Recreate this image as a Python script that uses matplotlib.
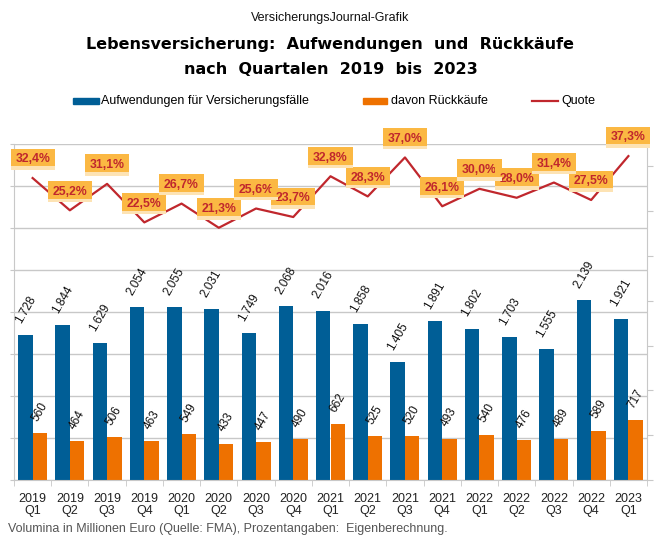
import numpy as np
import matplotlib.pyplot as plt
from matplotlib.patches import Rectangle
from matplotlib.lines import Line2D
from matplotlib.transforms import IdentityTransform

plt.rcParams['font.family'] = ['Liberation Sans', 'DejaVu Sans']

# ---------- data ----------
quarters = ["2019\nQ1", "2019\nQ2", "2019\nQ3", "2019\nQ4",
            "2020\nQ1", "2020\nQ2", "2020\nQ3", "2020\nQ4",
            "2021\nQ1", "2021\nQ2", "2021\nQ3", "2021\nQ4",
            "2022\nQ1", "2022\nQ2", "2022\nQ3", "2022\nQ4",
            "2023\nQ1"]
aufwendungen = [1728, 1844, 1629, 2054, 2055, 2031, 1749, 2068, 2016,
                1858, 1405, 1891, 1802, 1703, 1555, 2139, 1921]
rueckkaeufe = [560, 464, 506, 463, 549, 433, 447, 490, 662,
               525, 520, 493, 540, 476, 489, 589, 717]
quote = [32.4, 25.2, 31.1, 22.5, 26.7, 21.3, 25.6, 23.7, 32.8,
         28.3, 37.0, 26.1, 30.0, 28.0, 31.4, 27.5, 37.3]

BLUE = "#005E96"
ORANGE = "#EE7100"
RED = "#C0272D"
GRID = "#C8C8C8"


def de_num(v):
    return f"{v:,}".replace(",", ".")


def de_pct(v):
    return f"{v:.1f}%".replace(".", ",")


W, H = 661, 544
fig = plt.figure(figsize=(W / 100, H / 100), dpi=100)
ax = fig.add_axes([14 / W, 64 / H, 633 / W, 336 / H])

x = np.arange(len(quarters))
bw = 0.39
ax.bar(x - bw / 2, aufwendungen, bw, color=BLUE, zorder=2)
ax.bar(x + bw / 2, rueckkaeufe, bw, color=ORANGE, zorder=2)

for xi, v in zip(x, aufwendungen):
    ax.annotate(de_num(v), (xi - bw / 2, v), xytext=(0, 7), textcoords="offset points",
                rotation=60, ha="center", va="bottom", fontsize=8.5, color="#111111")
for xi, v in zip(x, rueckkaeufe):
    ax.annotate(de_num(v), (xi + bw / 2, v), xytext=(0, 7), textcoords="offset points",
                rotation=60, ha="center", va="bottom", fontsize=8.5, color="#111111")

ax.set_xlim(-0.5, len(quarters) - 0.5)
ax.set_ylim(0, 4000)
ax.set_yticks(np.arange(0, 4001, 500))
ax.set_yticklabels([])
ax.grid(axis="y", color=GRID, linewidth=1, zorder=0)
ax.set_axisbelow(True)
ax.set_xticks(x)
ax.set_xticklabels(quarters, fontsize=9, linespacing=1.1, color="#222222")
ax.set_xticks(np.arange(-0.5, len(quarters), 1), minor=True)
ax.tick_params(axis="x", which="major", length=0, pad=9)
ax.tick_params(axis="x", which="minor", length=4, color=GRID)
ax.tick_params(axis="y", length=3, color=GRID)
for s in ["top", "right"]:
    ax.spines[s].set_visible(False)
for s in ["left", "bottom"]:
    ax.spines[s].set_color(GRID)

# ---------- Quote auf zweiter Achse ----------
ax2 = ax.twinx()
ax2.plot(x, quote, color=RED, linewidth=1.6, zorder=3)
ax2.set_ylim(-35, 40)
ax2.set_yticks(np.arange(-35, 36, 10))
ax2.set_yticklabels([])
ax2.tick_params(axis="y", length=4, color=GRID)
for s in ["top", "left", "bottom"]:
    ax2.spines[s].set_visible(False)
ax2.spines["right"].set_color(GRID)

labels = []
for xi, q in zip(x, quote):
    t = ax2.annotate(de_pct(q), (xi, q), xytext=(0, 13.5), textcoords="offset points",
                     ha="center", va="center", fontsize=8.8, fontweight="bold", color=RED,
                     bbox=dict(boxstyle="square,pad=0.38", facecolor="#FBB843", edgecolor="none"),
                     zorder=5)
    labels.append(t)

# heller Streifen unten an den Etiketten
fig.canvas.draw()
renderer = fig.canvas.get_renderer()
for t in labels:
    bb = t.get_bbox_patch().get_window_extent(renderer)
    fig.add_artist(Rectangle((bb.x0, bb.y0), bb.width, 3.5, facecolor="#FDE3B4",
                             edgecolor="none", transform=IdentityTransform(), zorder=6))

# ---------- Titel ----------
fig.text(0.5, 1 - 18 / H, "VersicherungsJournal-Grafik", ha="center", va="center",
         fontsize=9, color="#111111")
fig.text(0.5, 1 - 45 / H, "Lebensversicherung:  Aufwendungen  und  Rückkäufe",
         ha="center", va="center", fontsize=11.5, fontweight="bold", family="DejaVu Sans")
fig.text(0.5, 1 - 69 / H, "nach  Quartalen  2019  bis  2023",
         ha="center", va="center", fontsize=11.5, fontweight="bold", family="DejaVu Sans")

# ---------- Legende ----------
ly = 1 - 101 / H
fig.add_artist(Rectangle((73 / W, ly - 3 / H), 26 / W, 6 / H, color=BLUE, transform=fig.transFigure))
fig.text(101 / W, ly, "Aufwendungen für Versicherungsfälle", va="center", fontsize=9)
fig.add_artist(Rectangle((363 / W, ly - 3 / H), 24 / W, 6 / H, color=ORANGE, transform=fig.transFigure))
fig.text(391 / W, ly, "davon Rückkäufe", va="center", fontsize=9)
fig.add_artist(Line2D([532 / W, 558 / W], [ly, ly], color=RED, linewidth=1.6, transform=fig.transFigure))
fig.text(561 / W, ly, "Quote", va="center", fontsize=9)

# ---------- Fussnote ----------
fig.text(8 / W, 1 - 529 / H,
         "Volumina in Millionen Euro (Quelle: FMA), Prozentangaben:  Eigenberechnung.",
         va="center", fontsize=9, color="#555555")

fig.savefig("out.png", dpi=100)
